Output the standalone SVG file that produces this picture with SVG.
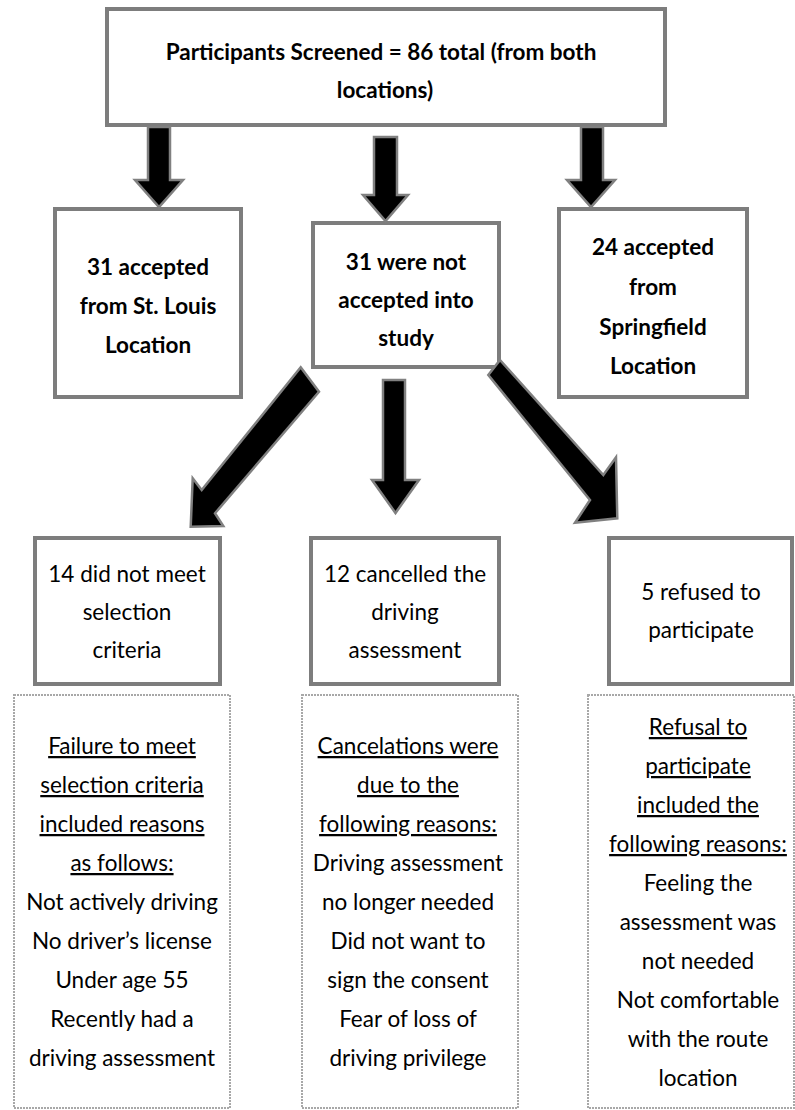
<svg xmlns="http://www.w3.org/2000/svg" width="795" height="1110" viewBox="0 0 795 1110">
<style>
.box{fill:#fff;stroke:#7d7d7d;stroke-width:4}
.lbox{fill:#fff;stroke:#a8a8a8;stroke-width:2;stroke-dasharray:2 1}
.arrow{fill:#000;stroke:#808080;stroke-width:2.5;stroke-linejoin:miter}
.b{font-family:Lato,"Open Sans",sans-serif;font-weight:700;font-size:22.5px;fill:#000;text-anchor:middle}
.r{font-family:Lato,"Open Sans",sans-serif;font-weight:400;font-size:22.5px;fill:#000;text-anchor:middle}
.u{text-decoration:underline}
</style>
<rect width="795" height="1110" fill="#fff"/>
<g id="screened">
<rect class="box" x="107" y="9" width="558" height="116"/>
<text class="b" x="381" y="60">Participants Screened = 86 total (from both</text>
<text class="b" x="385" y="98">locations)</text>
</g>
<g id="stlouis">
<rect class="box" x="55" y="209" width="186" height="188"/>
<text class="b" x="148" y="275">31 accepted</text>
<text class="b" x="148" y="314">from St. Louis</text>
<text class="b" x="148" y="353">Location</text>
</g>
<g id="notaccepted">
<rect class="box" x="313" y="223" width="186" height="144"/>
<text class="b" x="406" y="270">31 were not</text>
<text class="b" x="406" y="308">accepted into</text>
<text class="b" x="406" y="346">study</text>
</g>
<g id="springfield">
<rect class="box" x="559" y="209" width="188" height="188"/>
<text class="b" x="653" y="255">24 accepted</text>
<text class="b" x="653" y="295">from</text>
<text class="b" x="653" y="335">Springfield</text>
<text class="b" x="653" y="374">Location</text>
</g>
<g id="criteria">
<rect class="box" x="35" y="538" width="185" height="146"/>
<text class="r" x="127" y="582">14 did not meet</text>
<text class="r" x="127" y="620">selection</text>
<text class="r" x="127" y="658">criteria</text>
</g>
<g id="cancelled">
<rect class="box" x="311" y="538" width="188" height="146"/>
<text class="r" x="405" y="582">12 cancelled the</text>
<text class="r" x="405" y="620">driving</text>
<text class="r" x="405" y="658">assessment</text>
</g>
<g id="refused">
<rect class="box" x="609" y="538" width="183" height="146"/>
<text class="r" x="701" y="600">5 refused to</text>
<text class="r" x="701" y="638">participate</text>
</g>
<g id="criteria-reasons">
<rect class="lbox" x="14" y="695" width="216" height="413"/>
<text class="r u" x="122" y="754">Failure to meet</text>
<text class="r u" x="122" y="793">selection criteria</text>
<text class="r u" x="122" y="832">included reasons</text>
<text class="r u" x="122" y="871">as follows:</text>
<text class="r" x="122" y="910">Not actively driving</text>
<text class="r" x="122" y="949">No driver’s license</text>
<text class="r" x="122" y="988">Under age 55</text>
<text class="r" x="122" y="1027">Recently had a</text>
<text class="r" x="122" y="1066">driving assessment</text>
</g>
<g id="cancel-reasons">
<rect class="lbox" x="302" y="695" width="216" height="413"/>
<text class="r u" x="408" y="754">Cancelations were</text>
<text class="r u" x="408" y="793">due to the</text>
<text class="r u" x="408" y="832">following reasons:</text>
<text class="r" x="408" y="871">Driving assessment</text>
<text class="r" x="408" y="910">no longer needed</text>
<text class="r" x="408" y="949">Did not want to</text>
<text class="r" x="408" y="988">sign the consent</text>
<text class="r" x="408" y="1027">Fear of loss of</text>
<text class="r" x="408" y="1066">driving privilege</text>
</g>
<g id="refusal-reasons">
<rect class="lbox" x="588" y="695" width="206" height="413"/>
<text class="r u" x="698" y="735">Refusal to</text>
<text class="r u" x="698" y="774">participate</text>
<text class="r u" x="698" y="813">included the</text>
<text class="r u" x="698" y="852">following reasons:</text>
<text class="r" x="698" y="891">Feeling the</text>
<text class="r" x="698" y="930">assessment was</text>
<text class="r" x="698" y="969">not needed</text>
<text class="r" x="698" y="1008">Not comfortable</text>
<text class="r" x="698" y="1047">with the route</text>
<text class="r" x="698" y="1086">location</text>
</g>
<g id="connectors">
<polygon class="arrow" points="148,127 170,127 170,180 183,180 159,207 135,180 148,180"/>
<polygon class="arrow" points="374,137 397,137 397,195 408,195 385.5,221 363,195 374,195"/>
<polygon class="arrow" points="581,127 603,127 603,180 615,180 591,207 567,180 581,180"/>
<polygon class="arrow" points="383,380 405,380 405,480 419,480 395.5,513 372,480 383,480"/>
<polygon class="arrow" points="300.7,367.3 319,391.7 215,513.3 223.3,526 190.7,526.7 192.7,478.3 201.7,490"/>
<polygon class="arrow" points="500,360 603.3,475 616,457.3 617.3,518.3 575,522.7 590,500 488.3,375"/>
</g>
</svg>
